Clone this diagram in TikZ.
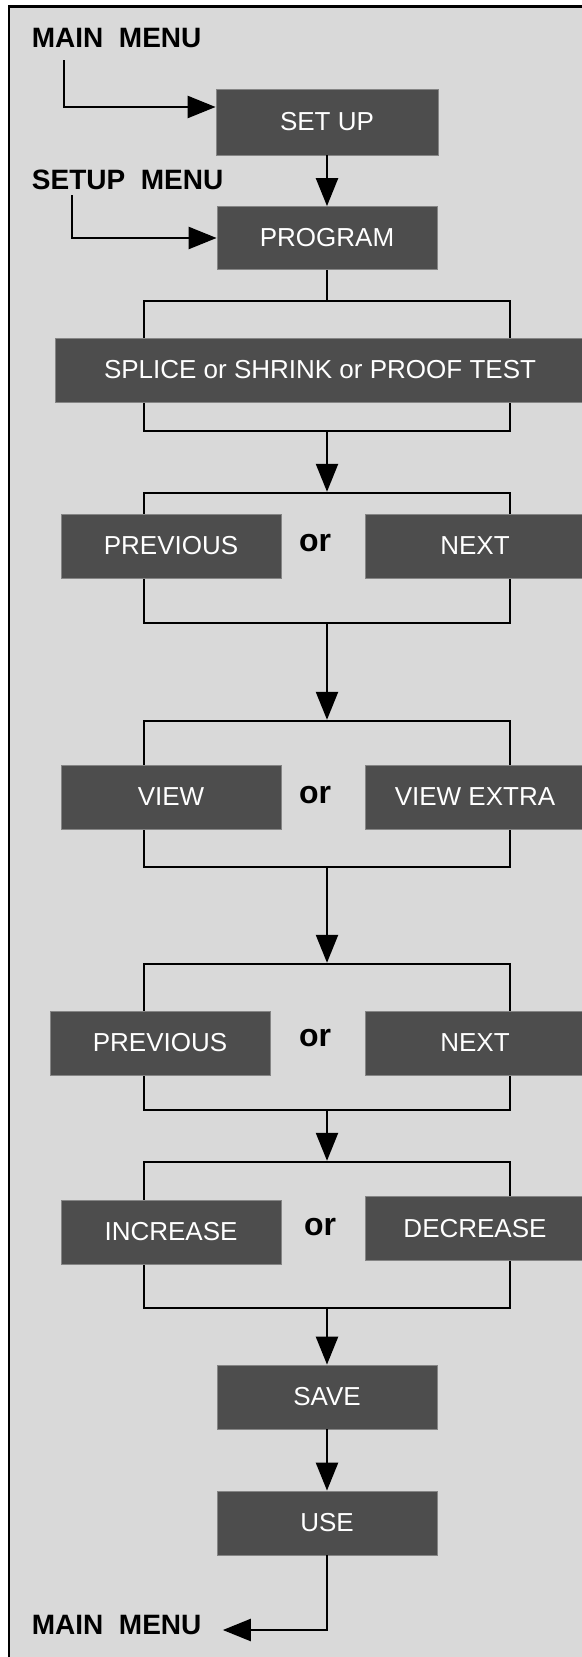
\documentclass[tikz,border=0pt]{standalone}
\usepackage{fontspec}
\setmainfont{Liberation Sans}
\newfontfamily\menufont[WordSpace=2]{Liberation Sans}
\usetikzlibrary{positioning, arrows.meta, calc}
\definecolor{menuBack}{HTML}{D9D9D9}
\definecolor{keyFill} {HTML}{4D4D4D}
\definecolor{keyEdge} {HTML}{858585}

\begin{document}
\begin{tikzpicture}[x=0.5pt, y=-0.5pt,
    key/.style={rectangle, fill=keyFill, draw=keyEdge, line width=0.4pt, text=white,
      font=\fontsize{13}{14}\selectfont, minimum width=110pt, minimum height=32pt, inner sep=0pt},
    menu/.style={font=\menufont\fontsize{14}{16}\selectfont\bfseries, inner sep=0pt, anchor=west},
    orword/.style={font=\fontsize{16}{18}\selectfont\bfseries, inner sep=0pt},
    group/.style={rectangle, draw=black, line width=1.2pt, minimum width=183pt},
    flow/.style={draw=black, line width=1.2pt, -{Triangle[length=14pt, width=11pt]}},
    link/.style={draw=black, line width=1.2pt},
  ]
  \useasboundingbox (0,0) rectangle (582,1657);
  \clip (0,0) rectangle (582,1657);
  \fill[white] (0,0) rectangle (582,1657);
  \draw[fill=menuBack, line width=1.2pt] (9,6.5) rectangle (620,1700);

  % brackets round the choices
  \node[group, minimum height=65pt] (grp1) at (327,366) {};
  \node[group, minimum height=65pt] (grp2) at (327,558) {};
  \node[group, minimum height=73pt] (grp3) at (327,794) {};
  \node[group, minimum height=73pt] (grp4) at (327,1037) {};
  \node[group, minimum height=73pt] (grp5) at (327,1235) {};

  % keys
  \node[key, minimum width=111pt, minimum height=33pt] (setup) at (327,122) {SET UP};
  \node[key, minimum height=31.5pt] (prog) at (327,238) {PROGRAM};
  \node[key, minimum width=265pt] (splice) at (320,370) {SPLICE or SHRINK or PROOF TEST};

  \node[key] (prev1) at (171,546) {PREVIOUS};
  \node[orword] (or1) at (315,543) {or};
  \node[key] (next1) at (475,546) {NEXT};

  \node[key] (view) at (171,797) {VIEW};
  \node[orword] (or2) at (315,795) {or};
  \node[key] (viewx) at (475,797) {VIEW EXTRA};

  \node[key] (prev2) at (160,1043) {PREVIOUS};
  \node[orword] (or3) at (315,1038) {or};
  \node[key] (next2) at (475,1043) {NEXT};

  \node[key] (inc) at (171,1232) {INCREASE};
  \node[orword] (or4) at (320,1227) {or};
  \node[key] (dec) at (475,1228.5) {DECREASE};

  \node[key] (save) at (327,1397) {SAVE};
  \node[key] (use) at (327,1523) {USE};

  % menu labels
  \node[menu] (mm1) at (31.5,38) {MAIN MENU};
  \node[menu] (smenu) at (31.5,180) {SETUP MENU};
  \node[menu] (mm2) at (31.5,1625) {MAIN MENU};

  % connectors
  \coordinate (c1) at (64,107);
  \draw[flow] ([yshift=-6pt]mm1.south -| c1) -- (c1) -- (c1 -| setup.west);
  \coordinate (c2) at (72,238);
  \draw[flow] ([yshift=-2.5pt]smenu.south -| c2) -- (c2) -- (prog.west);
  \draw[flow] (setup) -- (prog);
  \draw[link] (prog) -- (grp1);
  \draw[flow] (grp1) -- (grp2);
  \draw[flow] (grp2) -- (grp3);
  \draw[flow] (grp3) -- (grp4);
  \draw[flow] (grp4) -- (grp5);
  \draw[flow] (grp5) -- (save);
  \draw[flow] (save) -- (use);
  \coordinate (c3) at (327,1630);
  \draw[flow] (use) -- (c3) -- ([xshift=10.5pt]mm2.east |- c3);
\end{tikzpicture}
\end{document}
